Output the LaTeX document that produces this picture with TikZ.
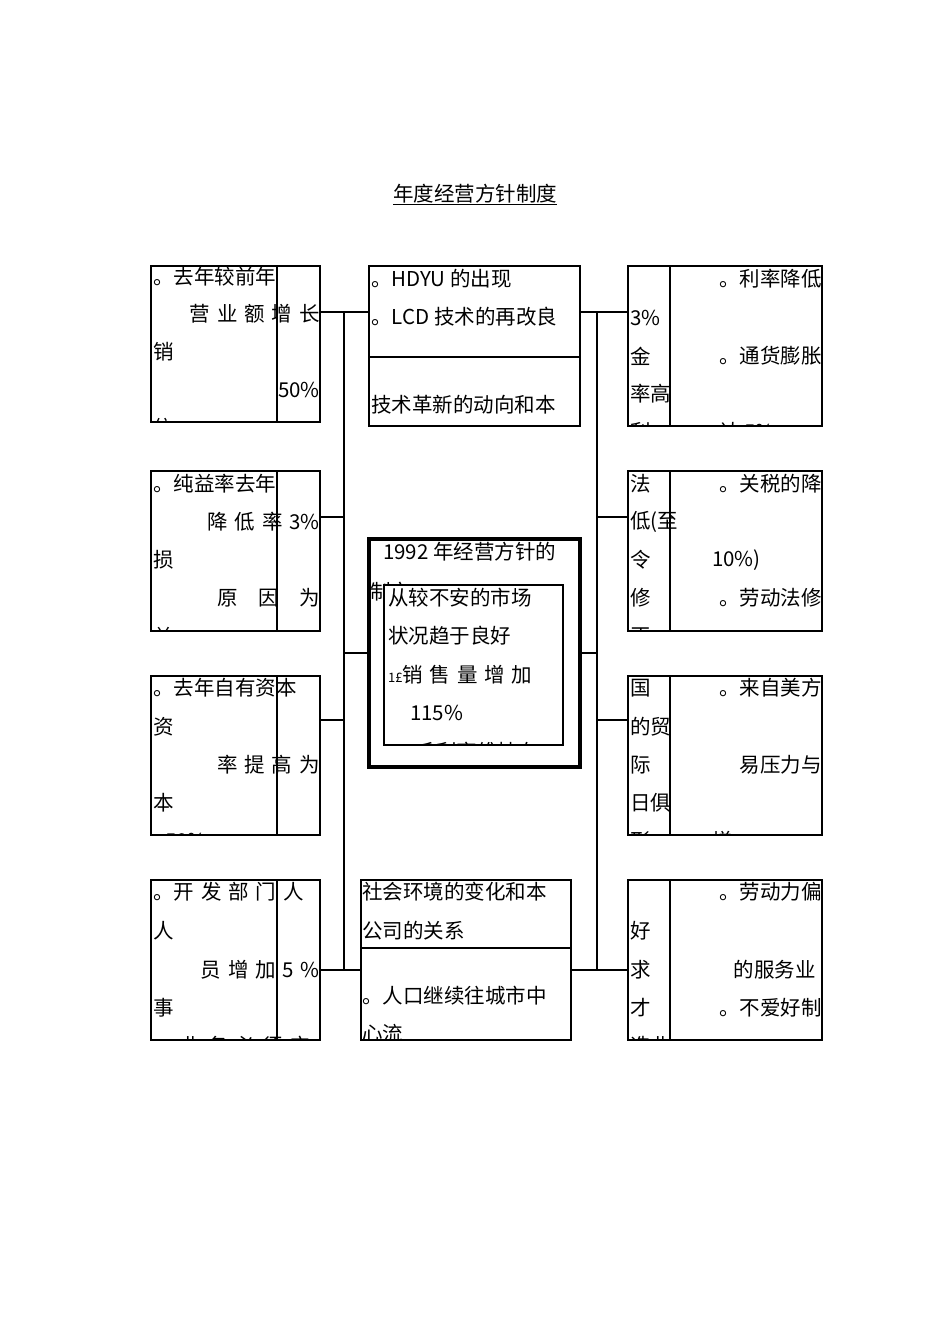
\documentclass[tikz,border=0pt]{standalone}
\usepackage{fontspec}
\setmainfont{Liberation Serif}
\newfontfamily\cjk{Noto Sans CJK SC}
\begin{document}
\begin{tikzpicture}[x=1pt,y=-1pt,
  box/.style={draw,line width=1.1pt,inner sep=0},
  ln/.style={line width=1.1pt},
  t/.style={anchor=west,inner sep=0,font=\cjk\fontsize{20.5}{20.5}\selectfont},
  tr/.style={anchor=east,inner sep=0,font=\cjk\fontsize{20.5}{20.5}\selectfont}]
\useasboundingbox (0,0) rectangle (950,1344);
\node[anchor=base,font=\cjk\fontsize{20.5}{20.5}\selectfont] (title) at (475,201) {\underline{年度经营方针制度}};
% left column
\foreach \y/\h in {266/422,471/631,676/835,880/1040}{
  \draw[box] (151,\y) rectangle (320,\h);
  \draw[ln] (277,\y) -- (277,\h+1);}
\begin{scope}\clip (151,266) rectangle (320,422);
 \node[t] (l1a) at (153,277) {。去年较前年};
 \node[tr] (l1b) at (320,314) {营\,\,业\,\,额\,\,增\,\,长};
 \node[t] (l1c) at (153,352) {销};
 \node[tr] (l1d) at (320,390) {50\%};
 \node[t] (l1e) at (153,428) {信};
\end{scope}
\begin{scope}\clip (151,471) rectangle (320,631);
 \node[t] (l2a) at (153,484) {。纯益率去年};
 \node[tr] (l2b) at (320,522) {降\,\,低\,\,率\,\,3\%};
 \node[t] (l2c) at (153,560) {损};
 \node[tr] (l2d) at (320,598) {原\quad 因\quad 为};
 \node[t] (l2e) at (153,636) {益};
\end{scope}
\begin{scope}\clip (151,676) rectangle (320,835);
 \node[t] (l3a) at (153,688) {。去年自有资本};
 \node[t] (l3c) at (153,727) {资};
 \node[tr] (l3b) at (320,765) {率\,\,提\,\,高\,\,为};
 \node[t] (l3d) at (153,803) {本};
 \node[t] (l3e) at (165,841) {50\%};
\end{scope}
\begin{scope}\clip (151,880) rectangle (320,1040);
 \node[t] (l4a) at (153,892) {。开\,\,发\,\,部\,\,门\,\,人};
 \node[t] (l4c) at (153,931) {人};
 \node[tr] (l4b) at (320,970) {员\,\,增\,\,加\,\,5\,\,\%};
 \node[t] (l4d) at (153,1008) {事};
 \node[t] (l4e) at (180,1046) {业\,\,务\,\,必\,\,须\,\,应};
\end{scope}
% right column
\foreach \y/\h in {266/426,471/631,676/835,880/1040}{
  \draw[box] (628,\y) rectangle (822,\h);
  \draw[ln] (670,\y) -- (670,\h);}
\begin{scope}\clip (628,266) rectangle (822,426);
 \node[tr] (r1a) at (822,279) {。利率降低};
 \node[t] (r1b) at (630,318) {3\%};
 \node[t] (r1c) at (630,356) {金};
 \node[tr] (r1d) at (822,356) {。通货膨胀};
 \node[t] (r1e) at (630,394) {率高};
 \node[t] (r1f) at (630,432) {利};
 \node[t] (r1g) at (720,432) {达\,5\%};
\end{scope}
\begin{scope}\clip (628,471) rectangle (822,631);
 \node[t] (r2a) at (630,484) {法};
 \node[tr] (r2b) at (822,484) {。关税的降};
 \node[t] (r2c) at (630,522) {低(至};
 \node[t] (r2d) at (630,560) {令};
 \node[t] (r2e) at (712,560) {10\%)};
 \node[t] (r2f) at (630,598) {修};
 \node[tr] (r2g) at (822,598) {。劳动法修};
 \node[t] (r2h) at (630,636) {正};
\end{scope}
\begin{scope}\clip (628,676) rectangle (822,835);
 \node[t] (r3a) at (630,688) {国};
 \node[tr] (r3b) at (822,688) {。来自美方};
 \node[t] (r3c) at (630,727) {的贸};
 \node[t] (r3d) at (630,765) {际};
 \node[tr] (r3e) at (822,765) {易压力与};
 \node[t] (r3f) at (630,803) {日俱};
 \node[t] (r3g) at (630,841) {形};
 \node[t] (r3h) at (712,841) {增};
\end{scope}
\begin{scope}\clip (628,880) rectangle (822,1040);
 \node[tr] (r4a) at (822,892) {。劳动力偏};
 \node[t] (r4b) at (630,931) {好};
 \node[t] (r4c) at (630,970) {求};
 \node[tr] (r4d) at (816,970) {的服务业};
 \node[t] (r4e) at (630,1008) {才};
 \node[tr] (r4f) at (822,1008) {。不爱好制};
 \node[t] (r4g) at (630,1046) {造业};
\end{scope}
% middle top
\draw[box] (369,266) rectangle (580,426);
\draw[ln] (369,357) -- (580,357);
\node[t] (m1a) at (371,279) {。HDYU 的出现};
\node[t] (m1b) at (371,317) {。LCD 技术的再改良};
\node[t] (m1c) at (371,405) {技术革新的动向和本};
% center
\draw[line width=3.2pt] (369,539) rectangle (580,767);
\begin{scope}\clip (371,541) rectangle (578,765);
\node[t] (c1) at (383,552) {1992 年经营方针的};
\node[t] (c2) at (370,592) {制定};
\end{scope}
\fill[white] (384,585) rectangle (563,745);
\draw[ln] (384,585) rectangle (563,745);
\begin{scope}\clip (384,585) rectangle (563,745);
\node[t] (c3) at (388,598) {从较不安的市场};
\node[t] (c4) at (388,636) {状况趋于良好};
\node[t] (c5) at (388,675) {{\fontsize{13}{13}\selectfont 1£}销\,\,售\,\,量\,\,增\,\,加};
\node[t] (c6) at (410,713) {115\%};
\node[t] (c7) at (395,752) {。毛利率维持在};
\end{scope}
% middle bottom
\draw[box] (361,880) rectangle (571,1040);
\draw[ln] (361,948) -- (571,948);
\node[t] (m2a) at (362,892) {社会环境的变化和本};
\node[t] (m2b) at (362,931) {公司的关系};
\begin{scope}\clip (361,948) rectangle (571,1040);
\node[t] (m2c) at (362,996) {。人口继续往城市中};
\node[t] (m2d) at (362,1034) {心流};
\end{scope}
% connectors
\coordinate (LT) at (344,312); \coordinate (LB) at (344,970);
\coordinate (RT) at (597,312); \coordinate (RB) at (597,970);
\draw[ln] (LT) -- (LB); \draw[ln] (RT) -- (RB);
\draw[ln] (320,312) -- (369,312);
\draw[ln] (320,517) -- (344,517);
\draw[ln] (320,720) -- (344,720);
\draw[ln] (320,970) -- (361,970);
\draw[ln] (344,653) -- (368,653);
\draw[ln] (580,312) -- (628,312);
\draw[ln] (597,517) -- (628,517);
\draw[ln] (597,720) -- (628,720);
\draw[ln] (571,970) -- (628,970);
\draw[ln] (581,653) -- (597,653);
\end{tikzpicture}
\end{document}
